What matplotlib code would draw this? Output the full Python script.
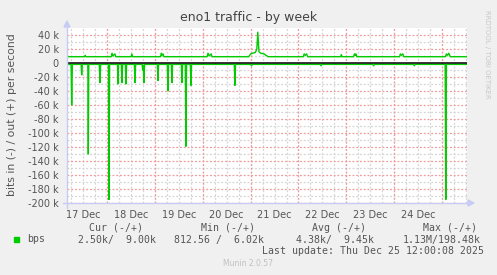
import matplotlib
matplotlib.use("Agg")
import matplotlib.pyplot as plt
from matplotlib.lines import Line2D
from matplotlib.patches import Polygon, Rectangle

W, H = 497, 275

# time axis in days of December 2025 (17.5 = 17 Dec 12:00)
x_start, x_end = 17.165, 25.52
day_labels = ['17 Dec', '18 Dec', '19 Dec', '20 Dec', '21 Dec', '22 Dec', '23 Dec', '24 Dec']
label_days = [17.5, 18.5, 19.5, 20.5, 21.5, 22.5, 23.5, 24.5]
midnights = [18, 19, 20, 21, 22, 23, 24, 25]

# out (+), kbit/s
out_t = [17.165, 17.19, 17.53, 17.545, 17.56,
         18.09, 18.105, 18.125, 18.165, 18.185,
         18.505, 18.52, 18.535,
         19.12, 19.135, 19.15, 19.17, 19.19,
         20.09, 20.11, 20.135, 20.175, 20.195,
         20.96, 21.00, 21.04, 21.10, 21.13, 21.15, 21.175, 21.21, 21.28, 21.32, 21.37,
         22.10, 22.12, 22.14, 22.17, 22.19,
         22.88, 22.895, 22.91,
         23.15, 23.17, 23.185, 23.20, 23.22,
         24.11, 24.13, 24.15, 24.18, 24.20,
         25.07, 25.09, 25.11, 25.14, 25.17,
         25.52]
out_v = [11, 9, 9, 11, 9,
         9, 14, 10, 13, 9,
         9, 13, 9,
         9, 14, 11, 13, 9,
         9, 14, 10, 13, 9,
         9, 13, 14, 15, 20, 44, 16, 14, 13, 11, 9,
         9, 13, 11, 13, 9,
         9, 12, 9,
         9, 13, 11, 13, 9,
         9, 13, 11, 13, 9,
         9, 13, 11, 14, 9,
         9]

# in (-), kbit/s (plotted negative)
in_t = [17.165,
        17.25, 17.263, 17.277,
        17.46, 17.472, 17.485,
        17.60, 17.61, 17.62,
        17.84, 17.854, 17.868,
        18.03, 18.042, 18.055,
        18.22, 18.23, 18.24,
        18.30, 18.313, 18.326,
        18.385, 18.397, 18.41,
        18.572, 18.585, 18.598,
        18.735, 18.745, 18.758, 18.772, 18.785,
        19.052, 19.065, 19.078,
        19.26, 19.273, 19.286,
        19.344, 19.357, 19.37,
        19.553, 19.566, 19.579,
        19.636, 19.649, 19.662,
        19.741, 19.754, 19.767,
        20.66, 20.672, 20.685,
        21.00, 21.02, 21.04,
        22.45, 22.47, 22.49,
        23.55, 23.57, 23.59,
        24.40, 24.42, 24.44,
        25.064, 25.077, 25.09,
        25.52]
in_v = [2,
        2, 60, 2,
        2, 17, 2,
        2, 130, 2,
        2, 28, 2,
        2, 195, 2,
        2, 30, 2,
        2, 28, 2,
        2, 30, 2,
        2, 28, 2,
        2, 10, 3, 28, 2,
        2, 25, 2,
        2, 40, 2,
        2, 28, 2,
        2, 28, 2,
        2, 119, 2,
        2, 32, 2,
        2, 32, 2,
        2, 4, 2,
        2, 4, 2,
        2, 4, 2,
        2, 4, 2,
        2, 195, 2,
        2]

y_ticks = [40, 20, 0, -20, -40, -60, -80, -100, -120, -140, -160, -180, -200]
y_labels = ['40 k', '20 k', '0', '-20 k', '-40 k', '-60 k', '-80 k', '-100 k',
            '-120 k', '-140 k', '-160 k', '-180 k', '-200 k']

legend_head = ['Cur (-/+)', 'Min (-/+)', 'Avg (-/+)', 'Max (-/+)']
legend_vals = ['2.50k/  9.00k', '812.56 /  6.02k', '4.38k/  9.45k', '1.13M/198.48k']

green = '#00cc00'
txt = '#555555'


def fx(px):
    return px / W


def fy(py):
    return 1 - py / H


fig = plt.figure(figsize=(W / 100, H / 100), dpi=100, facecolor='#f0f0f0')
ax = fig.add_axes([fx(67), fy(203), fx(467) - fx(67), fy(28) - fy(203)])
ax.set_facecolor('white')

ax.plot(out_t, out_v, color=green, lw=1.0, zorder=3)
ax.plot(in_t, [-v for v in in_v], color=green, lw=1.0, zorder=3)
ax.axhline(0, color='black', lw=1.1, zorder=4)

ax.set_xlim(x_start, x_end)
ax.set_ylim(-200, 50)

# grid: gray every 6h / 10k, red every day / 20k
dots = (0, (1.5, 1.5))
minor_x = [17.25 + 0.25 * i for i in range(34) if 17.25 + 0.25 * i < x_end]
for t in minor_x:
    ax.axvline(t, color='#d4d4d4', lw=0.9, ls=dots, zorder=1)
for y in range(-190, 50, 20):
    ax.axhline(y, color='#d4d4d4', lw=0.9, ls=dots, zorder=1)
for t in midnights:
    ax.axvline(t, color='#f09a9a', lw=0.9, ls=dots, zorder=2)
for y in y_ticks:
    if y != 0:
        ax.axhline(y, color='#f09a9a', lw=0.9, ls=dots, zorder=2)

ax.set_yticks(y_ticks)
ax.set_yticklabels(y_labels)
ax.set_xticks(label_days)
ax.set_xticklabels(day_labels)
ax.tick_params(length=0, labelsize=7, colors=txt)
ax.tick_params(axis='y', pad=6)
ax.tick_params(axis='x', pad=5)
for s in ax.spines.values():
    s.set_visible(False)

# axis lines with arrows
ac = '#c8ccf4'
fig.add_artist(Line2D([fx(67), fx(67)], [fy(208), fy(25)], color=ac, lw=1))
fig.add_artist(Line2D([fx(63), fx(469)], [fy(203), fy(203)], color=ac, lw=1))
fig.add_artist(Polygon([[fx(64), fy(27)], [fx(70), fy(27)], [fx(67), fy(21)]],
                       closed=True, color=ac))
fig.add_artist(Polygon([[fx(468), fy(200)], [fx(468), fy(206)], [fx(474), fy(203)]],
                       closed=True, color=ac))

fig.text(fx(249), fy(18), 'eno1 traffic - by week', ha='center', va='center',
         fontsize=9, color='#444444')
fig.text(fx(12), fy(115), 'bits in (-) / out (+) per second', rotation=90,
         ha='center', va='center', fontsize=7.8, color=txt)
fig.text(fx(487), fy(10), 'RRDTOOL / TOBI OETIKER', rotation=270,
         ha='center', va='top', fontsize=5, color='#c8c8c8')

mono = 'DejaVu Sans Mono'
for x0, s in zip([89, 201, 312, 423], legend_head):
    fig.text(fx(x0), fy(228), s, ha='left', va='center', fontsize=7.1,
             family=mono, color=txt)
fig.add_artist(Rectangle((fx(14), fy(242)), fx(19) - fx(14), fy(236.5) - fy(242),
                         color=green, transform=fig.transFigure))
fig.text(fx(27), fy(239.5), 'bps', ha='left', va='center', fontsize=7.1,
         family=mono, color=txt)
for x0, s in zip([78, 174, 296, 403], legend_vals):
    fig.text(fx(x0), fy(239.5), s, ha='left', va='center', fontsize=7.1,
             family=mono, color=txt)
fig.text(fx(262), fy(251), 'Last update: Thu Dec 25 12:00:08 2025', ha='left',
         va='center', fontsize=7.1, family=mono, color=txt)
fig.text(fx(223), fy(264), 'Munin 2.0.57', ha='left', va='center', fontsize=5.5,
         color='#c0c0c0')

fig.savefig('out.png', dpi=100, facecolor=fig.get_facecolor())
